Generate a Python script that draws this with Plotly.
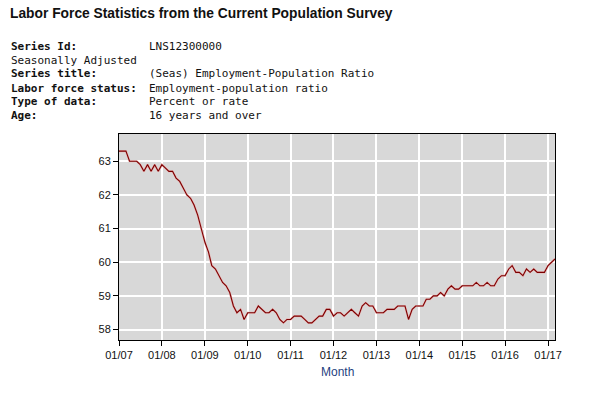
import pandas as pd
import plotly.graph_objects as go

# LNS12300000 - employment-population ratio, monthly, seasonally adjusted
epop_2007 = [63.3, 63.3, 63.3, 63.0, 63.0, 63.0, 62.9, 62.7, 62.9, 62.7, 62.9, 62.7]
epop_2008 = [62.9, 62.8, 62.7, 62.7, 62.5, 62.4, 62.2, 62.0, 61.9, 61.7, 61.4, 61.0]
epop_2009 = [60.6, 60.3, 59.9, 59.8, 59.6, 59.4, 59.3, 59.1, 58.7, 58.5, 58.6, 58.3]
epop_2010 = [58.5, 58.5, 58.5, 58.7, 58.6, 58.5, 58.5, 58.6, 58.5, 58.3, 58.2, 58.3]
epop_2011 = [58.3, 58.4, 58.4, 58.4, 58.3, 58.2, 58.2, 58.3, 58.4, 58.4, 58.6, 58.6]
epop_2012 = [58.4, 58.5, 58.5, 58.4, 58.5, 58.6, 58.5, 58.4, 58.7, 58.8, 58.7, 58.7]
epop_2013 = [58.5, 58.5, 58.5, 58.6, 58.6, 58.6, 58.7, 58.7, 58.7, 58.3, 58.6, 58.7]
epop_2014 = [58.7, 58.7, 58.9, 58.9, 59.0, 59.0, 59.1, 59.0, 59.2, 59.3, 59.2, 59.2]
epop_2015 = [59.3, 59.3, 59.3, 59.3, 59.4, 59.3, 59.3, 59.4, 59.3, 59.3, 59.5, 59.6]
epop_2016 = [59.6, 59.8, 59.9, 59.7, 59.7, 59.6, 59.8, 59.7, 59.8, 59.7, 59.7, 59.7]
epop_2017 = [59.9, 60.0, 60.1]

y_ticks = [58, 59, 60, 61, 62, 63]

header_labels = ["Series Id:", "Seasonally Adjusted", "Series title:",
                 "Labor force status:", "Type of data:", "Age:"]
header_values = ["LNS12300000", "", "(Seas) Employment-Population Ratio",
                 "Employment-population ratio", "Percent or rate",
                 "16 years and over"]
header_bold = [True, False, True, True, True, True]

values = (epop_2007 + epop_2008 + epop_2009 + epop_2010 + epop_2011 + epop_2012
          + epop_2013 + epop_2014 + epop_2015 + epop_2016 + epop_2017)
months = pd.date_range("2007-01-01", periods=len(values), freq="MS")

# plot box in page pixels
FW, FH = 605, 403
L, T, R, B = 119, 134, 555, 340
W, H = R - L, B - T


def px_x(px):
    return (px - L) / W


def px_y(py):
    return (B - py) / H


fig = go.Figure()
fig.add_trace(go.Scatter(x=months, y=values, mode="lines",
                         line=dict(color="#eab4b4", width=2.2),
                         hoverinfo="skip", showlegend=False))
fig.add_trace(go.Scatter(x=months, y=values, mode="lines",
                         line=dict(color="#7a0000", width=1.1),
                         showlegend=False))

mono = "DejaVu Sans Mono, Liberation Mono, monospace"
ann = [dict(text="<b>Labor Force Statistics from the Current Population Survey</b>",
            x=px_x(8), y=px_y(13), xref="paper", yref="paper",
            xanchor="left", yanchor="middle", showarrow=False,
            font=dict(family="Liberation Sans, Arial", size=13.8, color="#111"))]
row_y = [46.5, 60.5, 74, 88, 101.5, 115.5]
for lab, val, bold, ry in zip(header_labels, header_values, header_bold, row_y):
    ann.append(dict(text=("<b>%s</b>" % lab) if bold else lab,
                    x=px_x(9), y=px_y(ry), xref="paper", yref="paper",
                    xanchor="left", yanchor="middle", showarrow=False,
                    font=dict(family=mono, size=11, color="#111")))
    if val:
        ann.append(dict(text=val, x=px_x(147), y=px_y(ry), xref="paper", yref="paper",
                        xanchor="left", yanchor="middle", showarrow=False,
                        font=dict(family=mono, size=11, color="#111")))
ann.append(dict(text="Month", x=0.5, y=px_y(372), xref="paper", yref="paper",
                xanchor="center", yanchor="middle", showarrow=False,
                font=dict(family="Liberation Sans, Arial", size=12, color="#1f3f7f")))

fig.update_layout(
    width=FW, height=FH,
    margin=dict(l=L, r=FW - R, t=T, b=FH - B),
    paper_bgcolor="white", plot_bgcolor="#d8d8d8",
    annotations=ann,
    font=dict(family="Liberation Sans, Arial", size=11, color="#111"),
)
fig.update_xaxes(range=["2007-01-01", "2017-03-01"], dtick="M12", tick0="2007-01-01",
                 tickformat="%m/%y", showgrid=True, gridcolor="white", gridwidth=1.5,
                 showline=True, linecolor="black", linewidth=1, mirror=True,
                 ticks="outside", ticklen=5, tickcolor="black", zeroline=False)
fig.update_yaxes(range=[57.69, 63.81], tickvals=y_ticks, showgrid=True,
                 gridcolor="white", gridwidth=1.5,
                 showline=True, linecolor="black", linewidth=1, mirror=True,
                 ticks="outside", ticklen=5, tickcolor="black", zeroline=False)

# page body has an 8px margin by default; drop it so the figure sits at 0,0
fig.write_html("out.html", config={"displayModeBar": False},
               post_script="document.body.style.margin='0px';")
